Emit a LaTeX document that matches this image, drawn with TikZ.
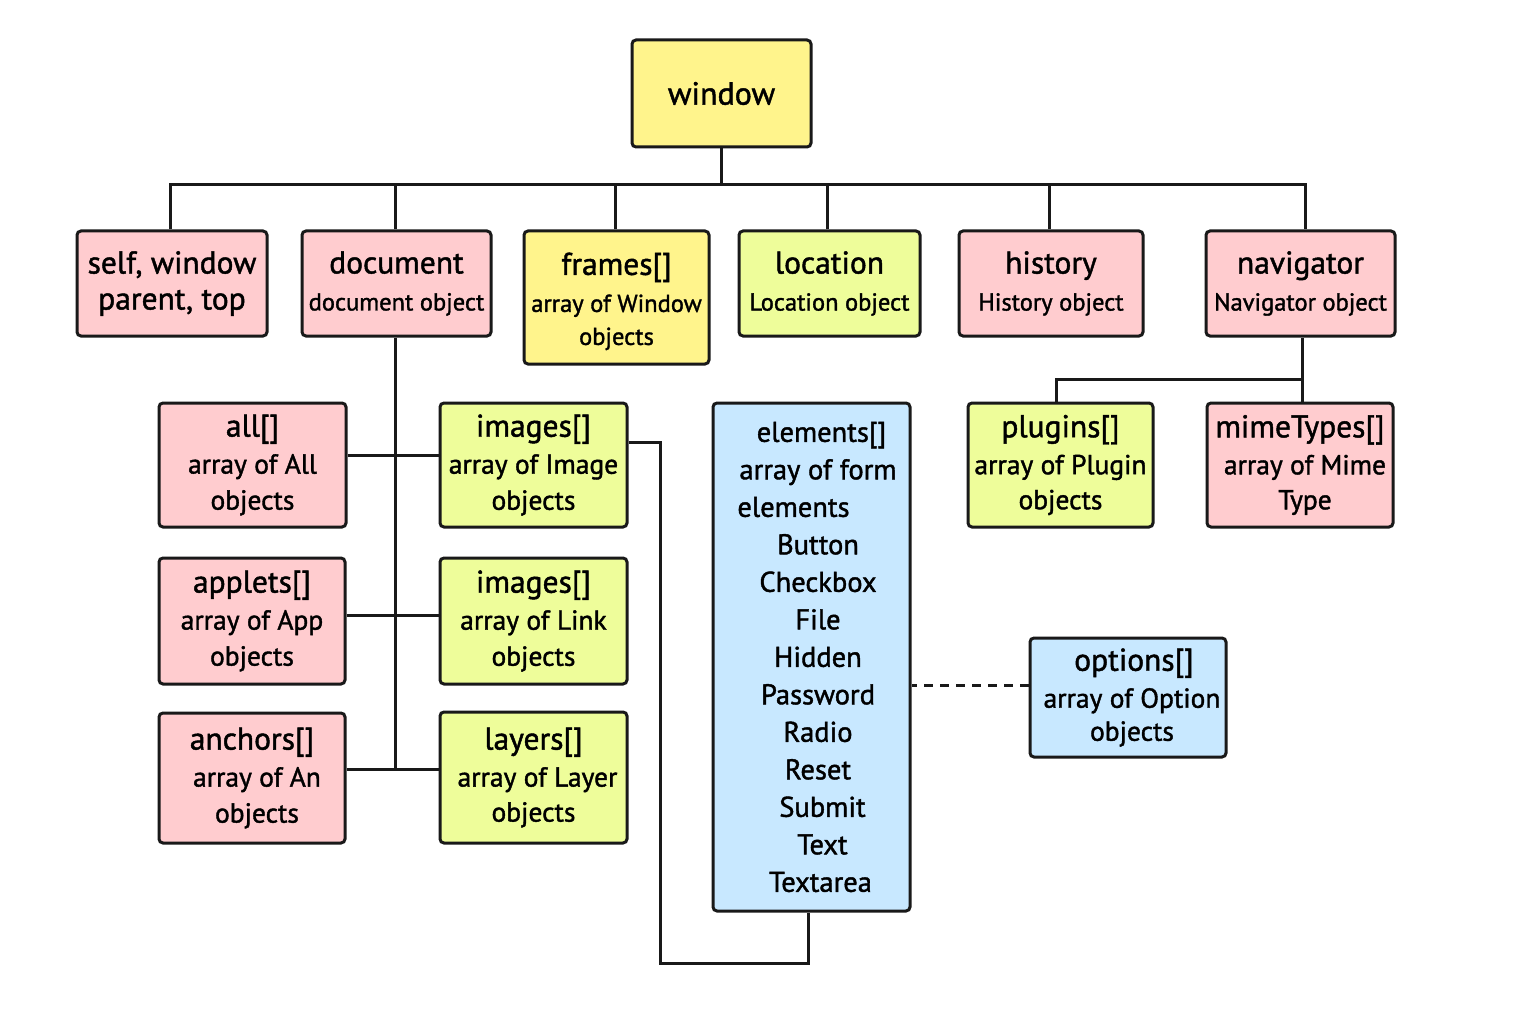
\documentclass[tikz,border=0pt]{standalone}
\usepackage{fontspec}
\setmainfont{PT Sans}[RawFeature={embolden=1.4}]
\usetikzlibrary{calc}
\definecolor{cyel}{HTML}{FFF48C}
\definecolor{cpink}{HTML}{FFCCCF}
\definecolor{cgreen}{HTML}{EEFD9A}
\definecolor{cblue}{HTML}{C8E8FF}
\newcommand\TitleL[1]{{\fontsize{32}{37}\selectfont #1}}
\newcommand\SubA[1]{{\fontsize{24.5}{37}\selectfont #1}}
\newcommand\SubB[1]{{\fontsize{27.5}{36}\selectfont #1}}
\newcommand\Ish{\hspace*{13pt}}
\begin{document}
\begin{tikzpicture}[x=1pt,y=-1pt,
  box/.style={draw=black!90, line width=3pt, rounded corners=4pt, align=center,
    inner sep=0pt, font=\fontsize{31.5}{37}\selectfont},
  conn/.style={draw=black!90, line width=3pt}]
\useasboundingbox (0,0) rectangle (1536,1024);
\fill[white] (0,0) rectangle (1536,1024);
% top
\node[box, fill=cyel, minimum width=179pt, minimum height=107pt] (win) at (721.5,93.5) {\TitleL{window}};
% first row
\node[box, fill=cpink, minimum width=190pt, minimum height=105pt] (self) at (172,283.5) {self, window\\[-1pt]parent, top};
\node[box, fill=cpink, minimum width=189pt, minimum height=105pt] (doc) at (396.5,283.5) {document\\\SubA{document object}};
\node[box, fill=cyel, minimum width=185pt, minimum height=133pt] (frames) at (616.5,297.5) {\rule{0pt}{30pt}frames[]\\\SubA{array of Window}\\[-4pt]\SubA{objects}};
\node[box, fill=cgreen, minimum width=181pt, minimum height=105pt] (loc) at (829.5,283.5) {location\\\SubA{Location object}};
\node[box, fill=cpink, minimum width=184pt, minimum height=105pt] (hist) at (1051,283.5) {history\\\SubA{History object}};
\node[box, fill=cpink, minimum width=189pt, minimum height=105pt] (nav) at (1300.5,283.5) {navigator\\\SubA{Navigator object}};
% navigator children
\node[box, fill=cgreen, minimum width=185pt, minimum height=124pt] (plug) at (1060.5,465) {plugins[]\\\SubB{array of Plugin}\\[-2pt]\SubB{objects}};
\node[box, fill=cpink, minimum width=186pt, minimum height=124pt] (mime) at (1300,465) {mimeTypes[]\\\SubB{\hspace*{10pt}array of Mime}\\[-2pt]\SubB{\hspace*{10pt}Type}};
% document children
\node[box, fill=cpink, minimum width=187pt, minimum height=124pt] (all) at (252.5,465) {all[]\\\SubB{array of All}\\[-1pt]\SubB{objects}};
\node[box, fill=cgreen, minimum width=187pt, minimum height=124pt] (imgA) at (533.5,465) {images[]\\\SubB{array of Image}\\[-1pt]\SubB{objects}};
\node[box, fill=cpink, minimum width=186pt, minimum height=126pt] (appl) at (252,621) {applets[]\\\SubB{array of App}\\[-1pt]\SubB{objects}};
\node[box, fill=cgreen, minimum width=187pt, minimum height=126pt] (imgB) at (533.5,621) {images[]\\\SubB{array of Link}\\[-1pt]\SubB{objects}};
\node[box, fill=cpink, minimum width=186pt, minimum height=130pt] (anch) at (252,778) {anchors[]\\\SubB{\hspace*{10pt}array of An}\\[-1pt]\SubB{\hspace*{10pt}objects}};
\node[box, fill=cgreen, minimum width=187pt, minimum height=131pt] (lay) at (533.5,777.5) {layers[]\\\SubB{\hspace*{8pt}array of Layer}\\[-2pt]\SubB{objects}};
% elements
\node[box, fill=cblue, minimum width=197pt, minimum height=508pt, font=\fontsize{28.5}{37.5}\selectfont] (elem) at (811.5,657)
  {\hspace*{20pt}elements[]\\\Ish array of form\\\hspace*{-36pt}elements\\\Ish Button\\\Ish Checkbox\\\Ish File\\\Ish Hidden\\\Ish Password\\\Ish Radio\\\Ish Reset\\\hspace*{22pt}Submit\\\hspace*{22pt}Text\\\hspace*{18pt}Textarea};
\node[box, fill=cblue, minimum width=196pt, minimum height=119pt] (opt) at (1128,697.5) {\hspace*{12pt}options[]\\\SubB{\hspace*{8pt}array of Option}\\[-4pt]\SubB{\hspace*{8pt}objects}};
% connectors
\coordinate (bus) at (0,185);
\draw[conn] (win.south) -- (win.south |- bus);
\draw[conn] ([xshift=-2pt]self.north) |- ([xshift=4.5pt]nav.north |- bus) -- ([xshift=4.5pt]nav.north);
\draw[conn] ([xshift=-1.5pt]doc.north) -- ([xshift=-1.5pt]doc.north |- bus);
\draw[conn] ([xshift=-1.5pt]frames.north) -- ([xshift=-1.5pt]frames.north |- bus);
\draw[conn] ([xshift=-2.5pt]loc.north) -- ([xshift=-2.5pt]loc.north |- bus);
\draw[conn] ([xshift=-2pt]hist.north) -- ([xshift=-2pt]hist.north |- bus);
% navigator
\coordinate (navbus) at (1302,379);
\draw[conn] ([xshift=1.5pt]nav.south) -- ([xshift=2pt]mime.north);
\draw[conn] ([xshift=-4.5pt]plug.north) |- (navbus);
% document trunk
\draw[conn] ([xshift=-1.5pt]doc.south) -- ([xshift=-1.5pt,yshift=9pt]doc.south |- anch.east);
\draw[conn] ([yshift=10pt]all.east) -- ([yshift=10pt]all.east -| imgA.west);
\draw[conn] ([yshift=6pt]appl.east) -- ([yshift=6pt]appl.east -| imgB.west);
\draw[conn] ([yshift=9pt]anch.east) -- ([yshift=9pt]anch.east -| lay.west);
% images to elements loop
\coordinate (loopc) at (660,963);
\draw[conn] ([yshift=23pt]imgA.east) -| (loopc) -| ([xshift=-3.5pt]elem.south);
% dashed to options
\draw[conn, dash pattern=on 9pt off 7pt] ([yshift=12pt]opt.west) -- ([yshift=12pt]opt.west -| elem.east);
\end{tikzpicture}
\end{document}
